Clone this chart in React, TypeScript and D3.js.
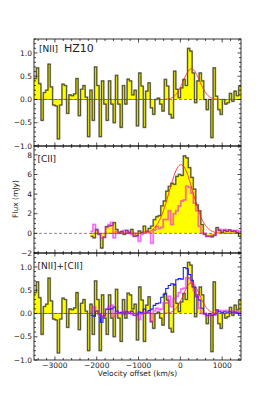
import * as React from 'react';
import * as d3 from 'd3';

// velocity grid of the [NII] spectrum (km/s)
const NII_START = -3500;
const NII_END = 1450;
const NII_FLUX = [
  0.45, 0.68, 0.34, -0.45, 0.15, 0.2, 0.76, 0.27, -0.12, -0.14,
  -0.85, -0.12, 0.33, 0.3, -0.3, 0.1, 0.08, 0.12, 0.45, -0.35,
  0.22, 0.3, 0.05, -0.8, 0.2, -0.45, 0.7, 0.3, -0.8, 0.4,
  -0.1, -0.45, 0.4, -0.1, -0.5, 0.52, -0.1, -0.6, 0.3, -0.1,
  0.44, 0.4,
  0.1, 0.2, -0.57, 0.57, 0.29, -0.6, 0.18, 0.36, -0.18, -0.32,
  0.0, 0.03, -0.1, -0.25, 0.43, 0.29, -0.32, -0.4, 0.61, 0.22,
  0.04, 0.25, 0.43, 0.3, 1.1, 1.04, 0.57, -0.07, 0.4, 0.57,
  0.4, 0.0, -0.22, 0.0, -0.82, 0.68, 0.07, -0.22, -0.32, 0.0,
  -0.1, -0.07, 0.13, -0.04, 0.18, 0.08, 0.29,
];

// [CII] spectrum, 60 km/s channels from -2150 km/s
const CII_START = -2150;
const CII_WIDTH = 60;
const CII_FLUX = [
  -0.3, -0.45, 0.4, -0.1, -1.5, -0.4, 0.7, 0.75, 0.8, 1.1,
  0.4, 0.1, 0.2, -0.1, 0.3, 0.05, 0.4, -0.3, -0.25, 0.25,
  0.1, 0.75, 0.2, 0.5, 0.75, 1.4, 1.7, 1.8, 2.8, 3.3,
  4.3, 4.8, 5.1, 5.0, 5.8, 6.0, 5.9, 7.9, 7.7, 6.7,
  5.7, 4.5, 2.9, 2.3, 0.9, -0.1, -0.3, -0.3, -0.35, -0.2,
  0.6, 0.3, 0.1, 0.3, 0.2, 0.35, 0.2, 0.25, 0.1, -0.3,
];
// second (magenta) spectrum on the same grid
const ALT_FLUX = [
  0.2, 0.9, 0.3, -0.1, -0.45, -0.4, 0.6, 0.9, 1.1, -0.45,
  0.2, 0.0, 0.0, 0.3, 0.0, 0.2, -0.1, 0.0, -0.3, -0.8,
  -0.1, 0.15, 0.2, 0.1, -1.0, 0.35, 0.7, 0.5, 0.6, 1.4,
  1.4, 2.3, 0.9, 2.0, 2.3, 2.8, 3.3, 3.4, 4.8, 4.7,
  4.1, 3.1, 2.3, 0.7, 0.0, 0.0, -0.3, -0.3, -0.2, -0.2,
  0.4, 0.4, 0.3, 0.4, 0.35, 0.3, 0.3, 0.2, 0.3, 0.2,
];
// scalings used in the bottom panel
const CII_SCALE = 0.125;
const ALT_SCALE = 0.16;

// gaussian fits: amplitude, centre, sigma
const FIT_NII = [0.66, 265, 195];
const FIT_CII = [7.0, 15, 282];

const X_MAJOR = [-3000, -2000, -1000, 0, 1000];
const Y_MAJOR_SMALL = [-1, -0.5, 0, 0.5, 1];
const Y_MAJOR_CII = [-2, 0, 2, 4, 6, 8];

const W = 268;
const H = 400;
const L = 34;
const R = 241;
const FONT = 'DejaVu Sans';

type Pt = [number, number];

function steps(start: number, width: number, vals: number[], k = 1): Pt[] {
  const pts: Pt[] = [];
  vals.forEach((v, i) => {
    pts.push([start + i * width, v * k]);
    pts.push([start + (i + 1) * width, v * k]);
  });
  return pts;
}

function gauss(fit: number[], from: number, to: number): Pt[] {
  const [a, mu, s] = fit;
  return d3.range(from, to + 1, 10).map((v) => [v, a * Math.exp(-0.5 * ((v - mu) / s) ** 2)] as Pt);
}

const x = d3.scaleLinear().domain([NII_START, NII_END]).range([L, R]);
const niiWidth = (NII_END - NII_START) / NII_FLUX.length;

interface PanelProps {
  id: string;
  top: number;
  bottom: number;
  domain: [number, number];
  major: number[];
  minorStep: number;
  fmt: (n: number) => string;
  xLabels: boolean;
  children: (y: d3.ScaleLinear<number, number>) => React.ReactNode;
}

function Panel(props: PanelProps) {
  const { id, top, bottom, domain, major, minorStep, fmt, xLabels } = props;
  const y = d3.scaleLinear().domain(domain).range([bottom, top]);
  const xMinor = d3.range(-3400, 1401, 200).filter((v) => v % 1000 !== 0);
  const yMinor = d3.range(Math.ceil(domain[0] / minorStep), Math.floor(domain[1] / minorStep) + 1)
    .map((i) => i * minorStep)
    .filter((v) => !major.some((m) => Math.abs(m - v) < 1e-6));
  const tk = { stroke: '#000', strokeWidth: 0.7 };
  return (
    <g>
      <clipPath id={id}>
        <rect x={L} y={top} width={R - L} height={bottom - top} />
      </clipPath>
      <g clipPath={`url(#${id})`}>{props.children(y)}</g>
      <rect x={L} y={top} width={R - L} height={bottom - top} fill="none" stroke="#000" strokeWidth={0.8} />
      {X_MAJOR.map((v) => (
        <g key={'xm' + v}>
          <line x1={x(v)} x2={x(v)} y1={bottom} y2={bottom - 3.5} {...tk} />
          <line x1={x(v)} x2={x(v)} y1={top} y2={top + 3.5} {...tk} />
        </g>
      ))}
      {xMinor.map((v) => (
        <g key={'xn' + v}>
          <line x1={x(v)} x2={x(v)} y1={bottom} y2={bottom - 2} {...tk} />
          <line x1={x(v)} x2={x(v)} y1={top} y2={top + 2} {...tk} />
        </g>
      ))}
      {major.map((v) => (
        <g key={'ym' + v}>
          <line x1={L} x2={L + 3.5} y1={y(v)} y2={y(v)} {...tk} />
          <line x1={R} x2={R - 3.5} y1={y(v)} y2={y(v)} {...tk} />
          <text x={L - 2} y={y(v) + 2.7} textAnchor="end" fontSize={7.5} fontFamily={FONT} fill="#222">
            {fmt(v)}
          </text>
        </g>
      ))}
      {yMinor.map((v) => (
        <g key={'yn' + v}>
          <line x1={L} x2={L + 2} y1={y(v)} y2={y(v)} {...tk} />
          <line x1={R} x2={R - 2} y1={y(v)} y2={y(v)} {...tk} />
        </g>
      ))}
      {xLabels &&
        X_MAJOR.map((v) => (
          <text key={'xl' + v} x={x(v)} y={bottom + 7.5} textAnchor="middle" fontSize={7.5} fontFamily={FONT} fill="#222">
            {d3.format('d')(v)}
          </text>
        ))}
    </g>
  );
}

function Spectrum({ pts, y }: { pts: Pt[]; y: d3.ScaleLinear<number, number> }) {
  const area = d3.area<Pt>().x((d) => x(d[0])).y0(y(0)).y1((d) => y(d[1]));
  const line = d3.line<Pt>().x((d) => x(d[0])).y((d) => y(d[1]));
  return (
    <g>
      <path d={area(pts) || ''} fill="#ffff00" />
      <path d={line(pts) || ''} fill="none" stroke="#000" strokeOpacity={0.38} strokeWidth={1.7} />
      <path d={line(pts) || ''} fill="none" stroke="#000" strokeOpacity={0.75} strokeWidth={0.6} />
    </g>
  );
}

function Line({ pts, y, color, width = 1, opacity = 1 }: {
  pts: Pt[]; y: d3.ScaleLinear<number, number>; color: string; width?: number; opacity?: number;
}) {
  const line = d3.line<Pt>().x((d) => x(d[0])).y((d) => y(d[1]));
  return <path d={line(pts) || ''} fill="none" stroke={color} strokeWidth={width} strokeOpacity={opacity} />;
}

function Magenta({ pts, y }: { pts: Pt[]; y: d3.ScaleLinear<number, number> }) {
  return (
    <g>
      <Line pts={pts} y={y} color="#ff00ff" width={2} opacity={0.4} />
      <Line pts={pts} y={y} color="#dd22dd" width={0.6} opacity={0.7} />
    </g>
  );
}

function Zero({ y }: { y: d3.ScaleLinear<number, number> }) {
  return (
    <line x1={L} x2={R} y1={y(0)} y2={y(0)} stroke="#000" strokeOpacity={0.5} strokeWidth={0.9} strokeDasharray="3,2" />
  );
}

export default function App() {
  const nii = steps(NII_START, niiWidth, NII_FLUX);
  const cii = steps(CII_START, CII_WIDTH, CII_FLUX);
  const alt = steps(CII_START, CII_WIDTH, ALT_FLUX);
  const ciiEnd = CII_START + CII_WIDTH * CII_FLUX.length;
  const fmt1 = d3.format('.1f');
  const fmt0 = d3.format('d');
  return (
    <svg width={W} height={H} style={{ position: 'absolute', left: 0, top: 0, background: '#fff' }}>
      <Panel id="p1" top={39} bottom={146} domain={[-1, 1.3]} major={Y_MAJOR_SMALL} minorStep={0.1} fmt={fmt1} xLabels={false}>
        {(y) => (
          <g>
            <Spectrum pts={nii} y={y} />
            <Zero y={y} />
            <Line pts={gauss(FIT_NII, NII_START, NII_END)} y={y} color="#ff2020" width={0.9} />
          </g>
        )}
      </Panel>
      <Panel id="p2" top={146} bottom={253} domain={[-2, 8.9]} major={Y_MAJOR_CII} minorStep={0.5} fmt={fmt0} xLabels={false}>
        {(y) => (
          <g>
            <Spectrum pts={cii} y={y} />
            <Zero y={y} />
            <Magenta pts={alt} y={y} />
            <Line pts={gauss(FIT_CII, CII_START, ciiEnd)} y={y} color="#ff2020" width={0.9} />
          </g>
        )}
      </Panel>
      <Panel id="p3" top={253} bottom={360} domain={[-1, 1.3]} major={Y_MAJOR_SMALL} minorStep={0.1} fmt={fmt1} xLabels={true}>
        {(y) => (
          <g>
            <Spectrum pts={nii} y={y} />
            <Zero y={y} />
            <Line pts={steps(CII_START, CII_WIDTH, CII_FLUX, CII_SCALE)} y={y} color="#1a1aff" width={1.1} />
            <Magenta pts={steps(CII_START, CII_WIDTH, ALT_FLUX, ALT_SCALE)} y={y} />
            <Line pts={gauss(FIT_NII, NII_START, NII_END)} y={y} color="#ff2020" width={0.9} />
          </g>
        )}
      </Panel>
      <text x={39} y={52.3} fontSize={9} fontFamily={FONT} fill="#222">[NII]</text>
      <text x={64} y={52.3} fontSize={11} fontFamily={FONT} fill="#222">HZ10</text>
      <text x={37.5} y={162.3} fontSize={9} fontFamily={FONT} fill="#222">[CII]</text>
      <text x={37.5} y={269.3} fontSize={9} fontFamily={FONT} fill="#222">[NII]+[CII]</text>
      <text transform="translate(18,199) rotate(-90)" textAnchor="middle" fontSize={7.5} fontFamily={FONT} fill="#222">
        Flux (mJy)
      </text>
      <text x={(L + R) / 2} y={376} textAnchor="middle" fontSize={7.5} fontFamily={FONT} fill="#222">
        Velocity offset (km/s)
      </text>
    </svg>
  );
}
